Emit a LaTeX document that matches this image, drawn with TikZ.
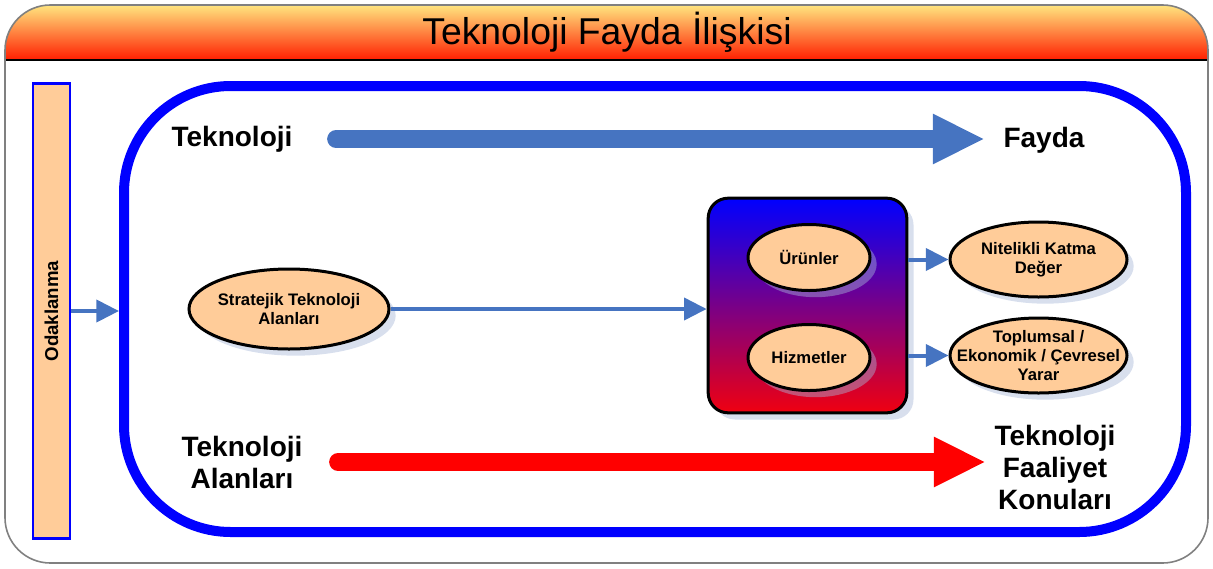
\documentclass[tikz,border=0pt]{standalone}
\usepackage{fontspec}
\setmainfont{Liberation Sans}
\usetikzlibrary{arrows.meta,shapes.geometric,shadows}
\definecolor{peach}{HTML}{FFCC99}
\definecolor{steel}{HTML}{4674C1}
\definecolor{frameblue}{HTML}{0000FF}
\definecolor{hdrtop}{HTML}{FFE57F}
\definecolor{hdrmid}{HTML}{FF9A3C}
\definecolor{hdrbot}{HTML}{FF1E00}
\definecolor{shadowc}{HTML}{A8B8D8}
\definecolor{boxred}{HTML}{F00010}
\begin{document}
\begin{tikzpicture}[x=0.75pt,y=-0.75pt,
  bigtext/.style={font=\bfseries\fontsize{21}{24}\selectfont, inner sep=0pt, align=center},
  oval/.style={ellipse, draw=black, line width=2.25pt, fill=peach,
    font=\bfseries\fontsize{12.5}{14}\selectfont, align=center, inner sep=-20pt,
    drop shadow={shadow xshift=5pt, shadow yshift=-5pt, fill=shadowc, opacity=0.45}},
  thinarrow/.style={draw=steel, color=steel, line width=3pt, -{Triangle[length=17pt,width=16.5pt]}},
  fatarrow/.style={line width=13.5pt, line cap=round, -{Triangle[length=39pt,width=35pt]}}
]
\useasboundingbox (0,0) rectangle (1213,568);
% outer frame and header
\begin{scope}
  \clip[rounded corners=34pt] (5,5) rectangle (1208,563);
  \shade[top color=hdrtop, middle color=hdrmid, bottom color=hdrbot] (5,5) rectangle (1208,60);
\end{scope}
\draw[black, line width=1.5pt] (5,60) -- (1208,60);
\draw[gray, line width=1.2pt, rounded corners=34pt] (5,5) rectangle (1208,563);
\node[font=\fontsize{28}{32}\selectfont, inner sep=0pt] (title) at (607,32) {Teknoloji Fayda İlişkisi};

% big blue frame
\node[draw=frameblue, line width=7.5pt, rounded corners=80pt,
      minimum width=796.5pt, minimum height=334.5pt] (frame) at (655,309) {};

% Odaklanma bar
\node[rotate=90, draw=frameblue, fill=peach, line width=2pt,
      minimum width=341.25pt, minimum height=27.75pt, inner sep=0pt,
      font=\bfseries\fontsize{14}{16}\selectfont] (odak) at (51.5,311) {Odaklanma};
\draw[thinarrow] (odak.south) -- (odak.south -| frame.west);

% labels
\node[bigtext] (tek1) at (232,139) {Teknoloji};
\node[bigtext] (fay) at (1044,140) {Fayda};
\node[bigtext] (tek2) at (242,462) {Teknoloji\\Alanları};
\node[bigtext] (tfk) at (1055,467) {Teknoloji\\Faaliyet\\Konuları};

\draw[fatarrow, color=steel, shorten <=32.6pt, shorten >=13.9pt] (tek1.east) -- (tek1.east -| fay.west);
\draw[fatarrow, color=red, shorten <=26.6pt, shorten >=6.4pt] (tek2.east) -- (tek2.east -| tfk.west);

% Stratejik
\node[oval, minimum width=150pt, minimum height=60pt] (sta) at (289,309) {Stratejik Teknoloji\\Alanları};

% gradient box
\node[draw=black, line width=2.25pt, rounded corners=15pt, top color=frameblue, bottom color=boxred,
      minimum width=149pt, minimum height=161pt,
      drop shadow={shadow xshift=5pt, shadow yshift=-5pt, fill=shadowc, opacity=0.45}] (box) at (807.5,305.5) {};
\node[oval, minimum width=91.5pt, minimum height=49.5pt] (urun) at (809,257.5) {Ürünler};
\node[oval, minimum width=91.5pt, minimum height=49.5pt] (hiz) at (809,357.5) {Hizmetler};

% result ovals
\node[oval, minimum width=132.75pt, minimum height=56.25pt] (nit) at (1038.5,259.5) {Nitelikli Katma\\Değer};
\node[oval, minimum width=132.75pt, minimum height=56.25pt] (top) at (1038.5,355.5) {Toplumsal /\\Ekonomik / Çevresel\\Yarar};

\draw[thinarrow] (sta.east) -- (sta.east -| box.west);
\draw[thinarrow] (box.east |- nit.west) -- (nit.west);
\draw[thinarrow] (box.east |- top.west) -- (top.west);
\end{tikzpicture}
\end{document}
